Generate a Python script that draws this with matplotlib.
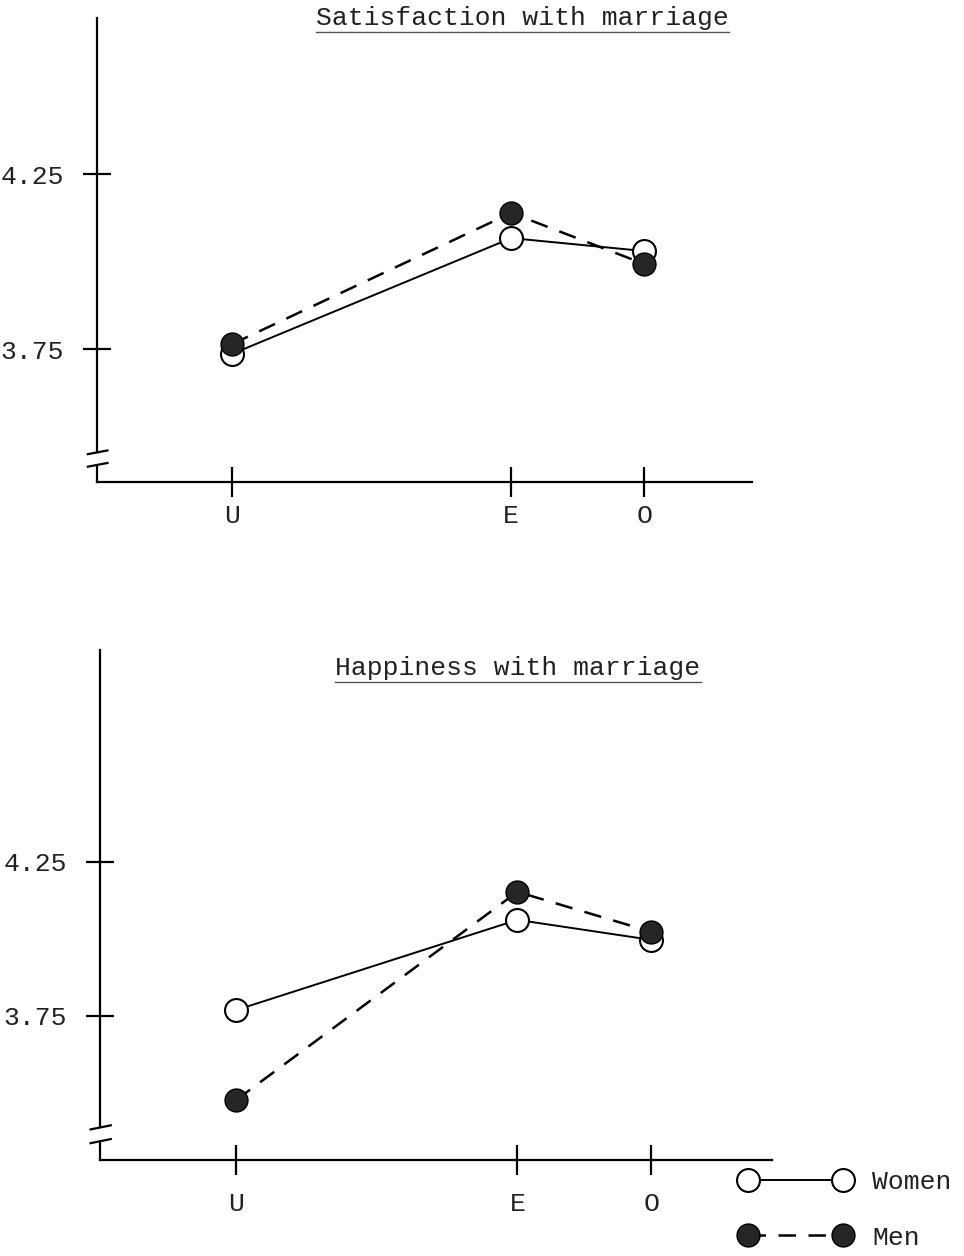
import matplotlib
matplotlib.use("Agg")
import matplotlib.pyplot as plt
from matplotlib.lines import Line2D

# valores
categorias = ["U", "E", "O"]
x_pos = [0.0, 2.1, 3.1]
y_ticks = [3.75, 4.25]
y_tick_labels = ["3.75", "4.25"]

satisf_mulheres = [3.736, 4.067, 4.030]
satisf_homens = [3.764, 4.139, 3.993]
felic_mulheres = [3.769, 4.062, 3.997]
felic_homens = [3.477, 4.153, 4.023]

titulos = ["Satisfaction with marriage", "Happiness with marriage"]

FONTE = "Liberation Mono"
TAM = 19
COR_TXT = "#222222"
COR_HOMEM = "#262626"

fig = plt.figure(figsize=(9.64, 12.56), dpi=100)
W, H = 964, 1256


def eixo(esq, dir_, topo, base):
    return fig.add_axes([esq / W, 1 - base / H, (dir_ - esq) / W, (base - topo) / H])


ax1 = eixo(97, 752, 18, 482)
ax2 = eixo(100, 772, 650, 1160)
ax1.set_xlim(-1.015, 3.91)
ax1.set_ylim(3.37, 4.696)
ax2.set_xlim(-1.015, 4.0)
ax2.set_ylim(3.2825, 4.938)

paineis = [
    (ax1, satisf_mulheres, satisf_homens, titulos[0], (0.650, 1.0), 5),
    (ax2, felic_mulheres, felic_homens, titulos[1], (0.622, 0.965), 12),
]

textos_titulo = []
for ax, mulheres, homens, titulo, pos, pad_x in paineis:
    ax.plot(x_pos, mulheres, color="black", lw=1.4, marker="o", ms=16.5,
            mfc="white", mec="black", mew=1.5, zorder=3, label="Women")
    ax.plot(x_pos, homens, color="black", lw=1.8, ls=(0, (7, 5)), marker="o",
            ms=16.5, mfc=COR_HOMEM, mec="black", mew=1.0, zorder=4, label="Men")

    for lado in ["top", "right"]:
        ax.spines[lado].set_visible(False)
    ax.spines["left"].set_linewidth(1.6)
    ax.spines["bottom"].set_linewidth(1.6)

    # eixo y interrompido perto da base
    y0, y1 = ax.get_ylim()
    ax.spines["left"].set_bounds(y0 + 0.064 * (y1 - y0), y1)
    ax.plot([0, 0], [0, 0.035], transform=ax.transAxes, color="black",
            lw=1.6, clip_on=False)
    ax.plot([-0.014, 0.016], [0.060, 0.068], transform=ax.transAxes,
            color="black", lw=1.6, clip_on=False)
    ax.plot([-0.014, 0.016], [0.033, 0.041], transform=ax.transAxes,
            color="black", lw=1.6, clip_on=False)

    ax.set_yticks(y_ticks)
    ax.set_yticklabels(y_tick_labels)
    ax.set_xticks(x_pos)
    ax.set_xticklabels(categorias)
    ax.tick_params(axis="y", direction="inout", length=20, width=1.6,
                   pad=14, labelsize=TAM, labelcolor=COR_TXT)
    ax.tick_params(axis="x", direction="inout", length=22, width=1.6,
                   pad=pad_x, labelsize=TAM, labelcolor=COR_TXT)
    for lbl in ax.get_xticklabels() + ax.get_yticklabels():
        lbl.set_fontfamily(FONTE)

    t = ax.text(pos[0], pos[1], titulo, transform=ax.transAxes, ha="center",
                va="center", fontsize=TAM, family=FONTE, color=COR_TXT)
    textos_titulo.append(t)

# legenda no canto inferior direito
hs, ls = ax2.get_legend_handles_labels()
leg = fig.legend(hs, ls, loc="upper left", bbox_to_anchor=(740 / W, 1 - 1170 / H),
                 numpoints=2, handlelength=4.2, handletextpad=0.8,
                 labelspacing=1.2, borderpad=0, borderaxespad=0,
                 frameon=False, prop={"family": FONTE, "size": TAM})
for txt in leg.get_texts():
    txt.set_color(COR_TXT)

# sublinhado dos títulos
fig.canvas.draw()
rend = fig.canvas.get_renderer()
for t in textos_titulo:
    bb = t.get_window_extent(rend)
    yl = bb.y0 - 2
    fig.add_artist(Line2D([bb.x0 / W, bb.x1 / W], [yl / H, yl / H],
                          transform=fig.transFigure, color="#555555", lw=1.0))

fig.savefig("out.png", dpi=100)
